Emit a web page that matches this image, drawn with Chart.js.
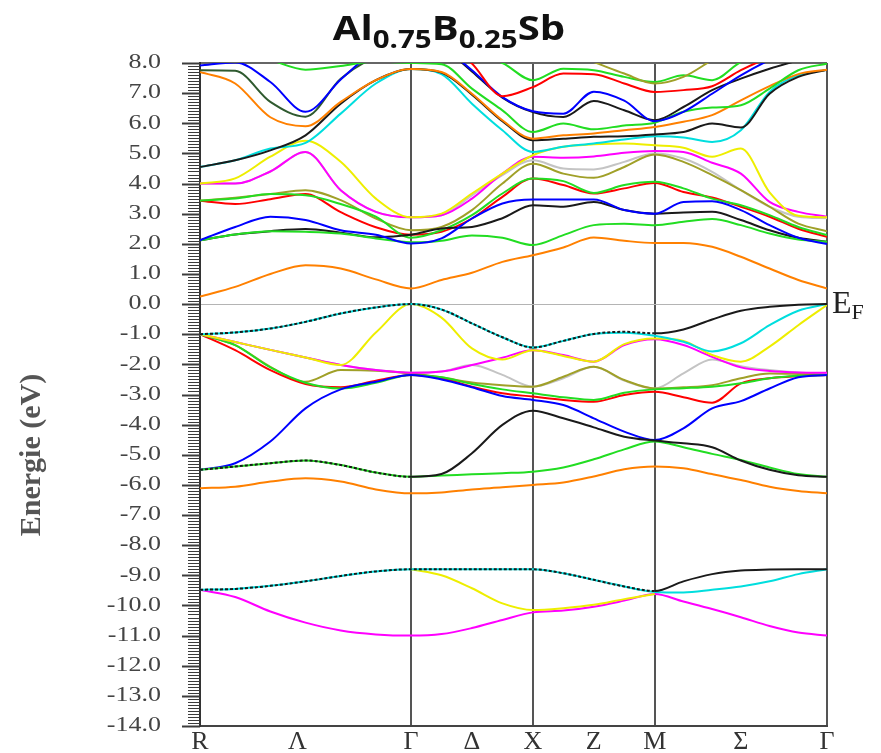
<!DOCTYPE html>
<html><head><meta charset="utf-8">
<script src="https://cdn.jsdelivr.net/npm/chart.js@4.4.0/dist/chart.umd.min.js"></script>
<style>
html,body{margin:0;padding:0;background:#fff;}
#wrap{position:relative;width:881px;height:753px;overflow:hidden;}
#c{position:absolute;left:0;top:0;}
#title{position:absolute;left:0;top:10px;width:898px;text-align:center;font-family:'Open Sans';font-weight:bold;font-size:34px;line-height:34px;color:#111;white-space:nowrap;transform:scaleX(1.18);transform-origin:449px 50%;}
#title .s{font-size:25px;position:relative;top:8px;}
#ylab{position:absolute;left:30px;top:455px;width:220px;height:32px;line-height:32px;margin-left:-110px;margin-top:-16px;text-align:center;transform:rotate(-90deg);font-family:'Liberation Serif';font-weight:bold;font-size:30px;color:#555;white-space:nowrap;}
#ef{position:absolute;left:832px;top:286px;font-family:'Liberation Serif';font-size:32px;line-height:32px;color:#222;white-space:nowrap;}
#ef .s{font-size:22px;position:relative;top:6px;}
</style></head><body>
<div id="wrap">
<canvas id="c" width="881" height="753"></canvas>
<div id="title">Al<span class="s">0.75</span>B<span class="s">0.25</span>Sb</div>
<div id="ylab">Energie (eV)</div>
<div id="ef">E<span class="s">F</span></div>
</div>
<script>
// k-path sample positions (R - Γ - X - M - Γ)
const kPath = [0, 0.1443, 0.2887, 0.4330, 0.5774, 0.7217, 0.8660,
  0.9910, 1.1160, 1.2410, 1.3660,
  1.4910, 1.6160, 1.7410, 1.8660,
  1.9839, 2.1017, 2.2196, 2.3374, 2.4553, 2.5731];
const kLabels = ['R', 'Λ', 'Γ', 'Δ', 'X', 'Z', 'M', 'Σ', 'Γ'];
const kLabelPos = [0, 0.40, 0.8660, 1.1160, 1.3660, 1.6160, 1.8660, 2.2196, 2.5731];
const kSymLines = [0, 0.8660, 1.3660, 1.8660, 2.5731];
const _ = null;

// conduction bands (eV)
const cOrange1 = [0.25,0.57,1.00,1.29,1.18,0.82,0.52, 0.80,1.04,1.40,1.62, 1.88,2.21,2.10,2.03, 2.03,1.90,1.57,1.18,0.80,0.52];
const cGreen1  = [2.12,2.31,2.42,2.40,2.34,2.18,2.05, 2.10,2.28,2.20,1.96, 2.29,2.62,2.67,2.62, 2.73,2.82,2.62,2.34,2.14,2.07];
const cBlue1   = [2.12,2.56,2.90,2.79,2.45,2.30,2.01, 2.18,2.84,3.34,3.47, 3.47,3.47,3.12,3.00, 3.39,3.41,3.12,2.62,2.20,1.99];
const cBlack1  = [2.12,2.31,2.42,2.49,2.37,2.22,2.30, 2.51,2.56,2.85,3.28, 3.23,3.39,3.12,3.00, 3.04,3.06,2.79,2.45,2.20,2.07];
const cRed1    = [3.43,3.32,3.48,3.65,3.05,2.55,2.30, 2.40,2.84,3.56,4.17, 3.95,3.67,3.84,4.02, 3.72,3.54,3.23,2.90,2.50,2.23];
const cGreen2  = [3.43,3.50,3.65,3.61,3.32,2.90,2.20, 2.45,2.95,3.67,4.17, 4.08,3.69,3.95,4.06, 3.84,3.50,3.28,2.95,2.56,2.29];
const cOlive1  = [3.43,3.53,3.65,3.78,3.45,2.84,2.45, 2.56,3.12,4.00,4.66, 4.33,4.19,4.55,4.96, 4.72,4.28,3.78,3.23,2.67,2.42];
const cGray1   = [4.00,4.00,4.40,5.05,3.78,3.06,2.88, 2.95,3.61,4.28,4.77, 4.50,4.47,4.72,5.00, 4.83,4.39,3.78,3.23,2.90,2.85];
const cMagenta1= [4.00,4.00,4.40,5.05,3.78,3.06,2.88, 2.95,3.50,4.33,4.89, 4.86,4.90,5.02,5.08, 5.05,4.69,4.33,3.39,3.06,2.90];
const cYellow1 = [4.00,4.17,4.89,5.42,4.72,3.50,2.88, 3.00,3.67,4.33,4.94, 5.22,5.30,5.33,5.27, 5.19,4.89,5.16,3.71,2.93,2.88];
const cCyan1   = [4.55,4.77,5.16,5.35,6.32,7.32,7.80, 7.63,6.65,5.77,5.05, 5.22,5.33,5.46,5.57, 5.53,5.38,5.77,7.04,7.59,7.78];
const cBlack2  = [4.55,4.77,5.10,5.60,6.65,7.43,7.80, 7.68,6.95,6.07,5.44, 5.49,5.55,5.57,5.63, 5.71,5.99,5.86,6.98,7.54,7.78];
const cOrange2 = [7.70,7.32,6.20,5.90,6.71,7.43,7.80, 7.70,6.98,6.10,5.49, 5.60,5.66,5.77,5.88, 6.05,6.27,6.76,7.23,7.63,7.78];
const cDkGreen = [7.76,7.74,6.71,6.22,7.48,8.20,8.45, _,_,_,_, _,_,_,_, _,_,_,_,_,_];
const cBlue2   = [7.92,8.02,7.37,6.38,7.45,8.50,_, _,_,_,_, _,_,_,_, _,_,_,_,_,_];
const cGreen3  = [_,_,8.10,7.78,7.90,8.05,8.00, 7.96,7.15,6.43,5.71, 5.99,5.80,5.93,6.02, 6.38,6.52,6.60,7.15,7.76,7.98];
const cBlue3   = [_,_,_,_,_,_,_, 8.60,7.76,6.87,6.40, 6.32,7.05,6.75,6.07, 6.38,6.98,7.59,8.10,8.50,_];
const cRed2    = [_,_,_,_,_,_,_, 8.80,7.98,6.90,7.20, 7.65,7.63,7.32,7.04, 7.10,7.23,7.76,8.20,_,_];
const cBlack3  = [_,_,_,_,_,_,_, 8.60,7.72,6.85,6.37, 6.21,6.74,6.43,6.10, 6.54,7.10,7.48,7.81,8.09,_];
const cGreen4  = [_,_,_,_,_,_,_, _,8.30,8.00,7.43, 7.81,7.76,7.54,7.37, 7.59,7.43,8.03,8.30,_,_];
const cOlive2  = [_,_,_,_,_,_,_, _,_,_,_, 8.40,8.03,7.65,7.32, 7.54,8.10,_,_,_,_];

// valence bands (eV)
const vBlack1  = [-1.00,-0.94,-0.81,-0.59,-0.31,-0.11,0.00, -0.18,-0.64,-1.10,-1.44, -1.22,-0.99,-0.92,-0.97, -0.84,-0.51,-0.22,-0.09,-0.02,0.00];
const vCyan1   = [-1.00,-0.94,-0.81,-0.59,-0.31,-0.11,0.00, -0.18,-0.64,-1.10,-1.44, -1.22,-0.99,-0.95,-1.05, -1.25,-1.57,-1.30,-0.70,-0.22,0.00];
const vYellow1 = [-1.00,-1.26,-1.52,-1.77,-2.02,-0.94,0.00, -0.45,-1.47,-1.84,-1.53, -1.72,-1.91,-1.33,-1.14, -1.22,-1.69,-1.91,-1.41,-0.70,-0.03];
const vMagenta1= [-1.00,-1.26,-1.52,-1.77,-2.02,-2.19,-2.28, -2.24,-2.02,-1.78,-1.53, -1.69,-1.91,-1.36,-1.17, -1.36,-1.75,-2.10,-2.22,-2.27,-2.28];
const vGray1   = [-1.00,-1.26,-1.52,-1.77,-2.02,-2.19,-2.28, -2.24,-2.02,-2.35,-2.74, -2.46,-2.08,-2.54,-2.80, -2.30,-1.84,-2.06,-2.19,-2.27,-2.30];
const vOlive1  = [-1.00,-1.36,-2.08,-2.58,-2.19,-2.21,-2.30, -2.43,-2.60,-2.69,-2.74, -2.41,-2.08,-2.52,-2.80, -2.76,-2.69,-2.46,-2.30,-2.32,-2.35];
const vGreen1  = [-1.00,-1.36,-2.10,-2.61,-2.80,-2.61,-2.35, -2.43,-2.65,-2.83,-2.96, -3.09,-3.18,-2.94,-2.83, -2.79,-2.74,-2.63,-2.46,-2.38,-2.35];
const vRed1    = [-1.00,-1.53,-2.19,-2.65,-2.76,-2.54,-2.35, -2.46,-2.74,-2.96,-3.07, -3.18,-3.24,-3.02,-2.91, -3.09,-3.27,-2.63,-2.46,-2.39,-2.35];
const vBlue1   = [-5.50,-5.28,-4.56,-3.46,-2.83,-2.58,-2.35, -2.50,-2.76,-3.05,-3.18, -3.35,-3.79,-4.23,-4.51, -4.12,-3.46,-3.22,-2.80,-2.43,-2.35];
const vBlack2  = [-5.50,-5.39,-5.28,-5.19,-5.34,-5.59,-5.73, -5.64,-4.95,-4.01,-3.54, -3.79,-4.09,-4.40,-4.53, -4.62,-4.75,-5.19,-5.50,-5.68,-5.73];
const vGreen2  = [-5.50,-5.39,-5.28,-5.19,-5.34,-5.59,-5.73, -5.69,-5.65,-5.61,-5.56, -5.42,-5.15,-4.82,-4.56, -4.75,-4.97,-5.17,-5.42,-5.64,-5.73];
const vOrange1 = [-6.11,-6.06,-5.89,-5.78,-5.89,-6.15,-6.28, -6.25,-6.15,-6.08,-6.00, -5.92,-5.72,-5.48,-5.39, -5.45,-5.64,-5.84,-6.06,-6.20,-6.28];
const vBlack3  = [-9.48,-9.45,-9.35,-9.20,-9.02,-8.87,-8.80, -8.80,-8.80,-8.80,-8.80, -8.93,-9.15,-9.37,-9.52, -9.20,-8.96,-8.84,-8.81,-8.80,-8.80];
const vCyan3   = [-9.48,-9.45,-9.35,-9.20,-9.02,-8.87,-8.80, -8.80,-8.80,-8.80,-8.80, -8.93,-9.15,-9.37,-9.55, -9.57,-9.48,-9.37,-9.20,-8.96,-8.80];
const vYellow3 = [_,_,_,_,_,_,-8.80, -9.00,-9.43,-9.93,-10.15, -10.09,-9.98,-9.79,-9.62, _,_,_,_,_,_];
const vMagenta3= [-9.48,-9.72,-10.20,-10.57,-10.83,-10.96,-11.00, -10.95,-10.75,-10.48,-10.23, -10.17,-10.04,-9.84,-9.62, -9.87,-10.12,-10.39,-10.68,-10.90,-11.00];

const yTickMin = -14, yTickMax = 8;

const C = {orange:'#ff8000', green:'#22dd22', blue:'#0000ff', red:'#ff0000', black:'#1a1a1a',
  olive:'#a0a028', gray:'#c4c4c4', magenta:'#ff00ff', yellow:'#eeee00', cyan:'#00dede',
  dkgreen:'#2f5a2f'};

// bottom-most first
const bands = [
  [cGray1, C.gray], [cOlive1, C.olive], [cRed1, C.red], [cGreen2, C.green], [cBlack1, C.black],
  [cGreen1, C.green], [cBlue1, C.blue], [cOrange1, C.orange], [cMagenta1, C.magenta], [cYellow1, C.yellow],
  [cCyan1, C.cyan], [cBlack2, C.black], [cOrange2, C.orange], [cDkGreen, C.dkgreen], [cBlue2, C.blue],
  [cGreen3, C.green], [cBlack3, C.black], [cBlue3, C.blue], [cRed2, C.red], [cGreen4, C.green], [cOlive2, C.olive],
  [vGray1, C.gray], [vOlive1, C.olive], [vRed1, C.red], [vGreen1, C.green], [vBlue1, C.blue],
  [vMagenta1, C.magenta], [vYellow1, C.yellow], [vCyan1, C.cyan], [vBlack1, C.black, 14],
  [vGreen2, C.green], [vBlack2, C.black, 6], [vOrange1, C.orange],
  [vMagenta3, C.magenta], [vYellow3, C.yellow], [vCyan3, C.cyan], [vBlack3, C.black, 14]
];

const datasets = bands.map((b, i) => {
  const ds = {
    data: kPath.map((k, j) => ({x: k, y: b[0][j]})),
    borderColor: b[1], borderWidth: 2, pointRadius: 0,
    cubicInterpolationMode: 'monotone', spanGaps: false,
    order: bands.length - i
  };
  if (b[2] !== undefined) {
    const lim = b[2];
    ds.segment = {borderDash: ctx => ctx.p0DataIndex < lim ? [3, 2] : undefined};
  }
  return ds;
});

const Y_TICK_LEN = 36, Y_TICK_PAD = 3, Y_LABEL_STRETCH = 1.3;

const yTickPlugin = {
  id: 'yMinorTicks',
  beforeDraw(chart) {
    const s = chart.scales.y;
    if (!s._stretched) {
      const orig = s.drawLabels;
      s.drawLabels = function (area) {
        const c = this.ctx, xr = this.right - Y_TICK_LEN - Y_TICK_PAD;
        c.save();
        c.translate(xr, 0); c.scale(Y_LABEL_STRETCH, 1); c.translate(-xr, 0);
        orig.call(this, area);
        c.restore();
      };
      s._stretched = true;
    }
  },
  afterDraw(chart) {
    const y = chart.scales.y, ctx = chart.ctx, x0 = chart.chartArea.left;
    ctx.save();
    ctx.strokeStyle = '#3c3c3c';
    for (let i = yTickMin * 10; i <= yTickMax * 10; i++) {
      const py = Math.round(y.getPixelForValue(i / 10)) + 0.5;
      const major = i % 10 === 0;
      ctx.lineWidth = major ? 2 : 1;
      ctx.beginPath();
      ctx.moveTo(x0 - (major ? 18 : 12), py);
      ctx.lineTo(x0, py);
      ctx.stroke();
    }
    ctx.restore();
  }
};

new Chart(document.getElementById('c'), {
  type: 'line',
  data: {datasets},
  options: {
    responsive: false, animation: false,
    layout: {padding: {top: 63, right: 54, bottom: 0, left: 0}},
    plugins: {legend: {display: false}, tooltip: {enabled: false}, title: {display: false}},
    scales: {
      x: {
        type: 'linear', min: 0, max: 2.5731,
        afterBuildTicks: s => { s.ticks = kLabelPos.map(v => ({value: v})); },
        afterFit: s => { s.height = 27; },
        ticks: {autoSkip: false, maxRotation: 0, padding: 1, color: '#333',
          font: {family: 'Liberation Serif', size: 26},
          callback: (v, i) => kLabels[i]},
        grid: {drawTicks: false,
          color: c => (c.tick && kSymLines.some(s => Math.abs(s - c.tick.value) < 1e-6)) ? '#555' : 'rgba(0,0,0,0)',
          lineWidth: 2},
        border: {display: true, color: '#444', width: 2}
      },
      y: {
        type: 'linear', min: yTickMin, max: yTickMax,
        afterFit: s => { s.width = 200; },
        ticks: {stepSize: 1, padding: Y_TICK_PAD, color: '#444',
          font: {family: 'Liberation Serif', size: 20},
          callback: v => v.toFixed(1)},
        grid: {drawTicks: true, tickLength: Y_TICK_LEN, tickColor: 'rgba(0,0,0,0)',
          color: c => c.tick.value === 0 ? '#b4b4b4' : (c.tick.value === yTickMax ? '#666' : 'rgba(0,0,0,0)'),
          lineWidth: c => c.tick.value === 0 ? 1 : 2},
        border: {display: true, color: '#333', width: 2}
      }
    }
  },
  plugins: [yTickPlugin]
});
</script>
</body></html>
